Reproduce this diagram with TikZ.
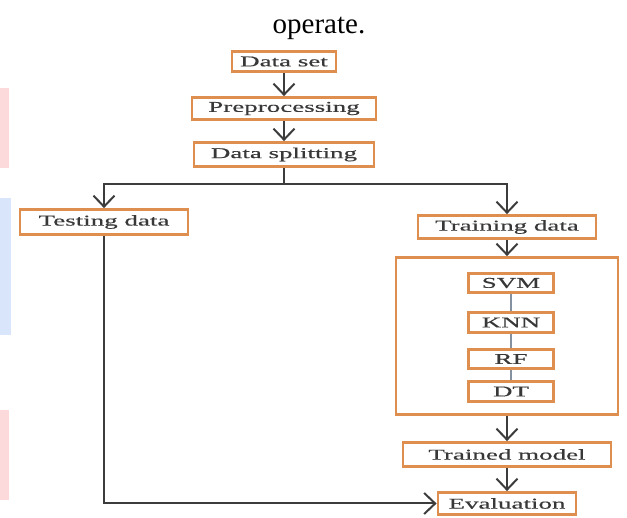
\documentclass[tikz,border=0pt]{standalone}
\usepackage{fontspec}
\setmainfont{Liberation Serif}
\newfontfamily\boxfont[FakeStretch=1.8,FakeBold=0.4]{Liberation Serif}
\usetikzlibrary{calc,arrows.meta}
\definecolor{boxorange}{HTML}{DE8E4E}
\definecolor{linegray}{HTML}{3C3C3C}
\definecolor{modelgray}{HTML}{8391A0}
\definecolor{stripred}{HTML}{FCDADB}
\definecolor{stripblue}{HTML}{D8E5FB}

\begin{document}
\begin{tikzpicture}[x=1pt,y=-1pt,
  object/.style={draw=boxorange,line width=2.8pt,fill=white,inner sep=0pt,font={\boxfont\fontsize{15}{18}\selectfont},text=black!78},
  arrow/.style={-{Straight Barb[length=11pt,width=21pt,line width=2pt]},line width=2pt,draw=linegray},
  link/.style={line width=1.5pt,draw=modelgray}]
  \useasboundingbox (0,0) rectangle (627,518);

  % page strips at the left edge
  \fill[stripred] (0,88) rectangle (9,168);
  \fill[stripblue] (0,198) rectangle (11,335);
  \fill[stripred] (0,410) rectangle (9,500);

  \node[anchor=base,font={\fontsize{29}{29}\selectfont}] (caption) at (319,34) {operate.};

  \node[object,minimum width=104pt,minimum height=20pt] (dataset) at (284,61.5) {Data set};
  \node[object,minimum width=184pt,minimum height=22pt] (preproc) at (284,108.5) {Preprocessing};
  \node[object,minimum width=180pt,minimum height=24pt] (split) at (284,154.5) {Data splitting};

  \node[object,minimum width=168pt,minimum height=25pt] (testing) at (104,222) {Testing data};
  \node[object,minimum width=178pt,minimum height=23pt] (training) at (507,227) {Training data};

  \node[draw=boxorange,line width=2.8pt,fill=white,minimum width=222pt,minimum height=157pt] (models) at (507,336) {};
  \node[object,minimum width=85pt,minimum height=19pt] (svm) at (511,283) {SVM};
  \node[object,minimum width=85pt,minimum height=20pt] (knn) at (511,322.5) {KNN};
  \node[object,minimum width=85pt,minimum height=19pt] (rf) at (511,359) {RF};
  \node[object,minimum width=85pt,minimum height=20pt] (dt) at (511,391.5) {DT};

  \node[object,minimum width=208pt,minimum height=24pt] (trained) at (507,454.5) {Trained model};
  \node[object,minimum width=138pt,minimum height=22pt] (eval) at (507,503.5) {Evaluation};

  \coordinate (fork) at ($ (split.south) + (0,16) $);

  \draw[arrow] (dataset) -- (preproc);
  \draw[arrow] (preproc) -- (split);
  \draw[line width=2pt,draw=linegray] (split.south) -- (fork);
  \draw[arrow] (fork) -| (testing.north);
  \draw[arrow] (fork) -| (training.north);
  \draw[arrow] (training) -- (models);
  \draw[link] (svm) -- (knn);
  \draw[link] (knn) -- (rf);
  \draw[link] (rf) -- (dt);
  \draw[arrow] (models) -- (trained);
  \draw[arrow] (trained) -- (eval);
  \draw[arrow] (testing.south) |- (eval.west);
\end{tikzpicture}
\end{document}
